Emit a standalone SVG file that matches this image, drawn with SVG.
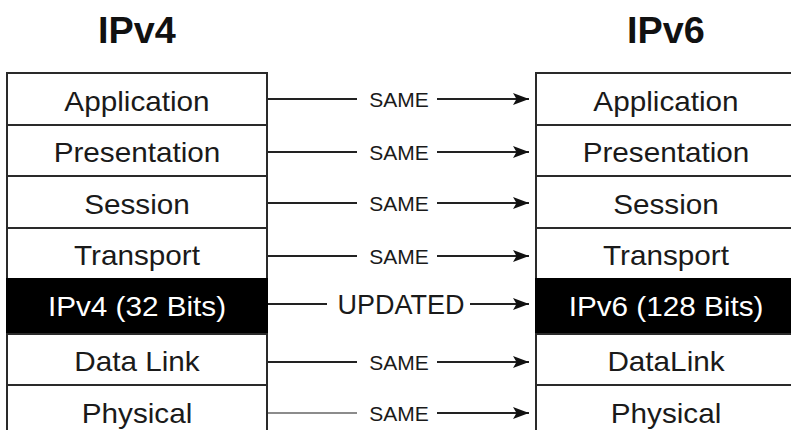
<svg xmlns="http://www.w3.org/2000/svg" width="791" height="430" viewBox="0 0 791 430">
  <style>
    .title { font-family: "Liberation Sans", Arial, sans-serif; font-weight: bold; font-size: 36px; fill: #111; text-anchor: middle; }
    .row { fill: #fff; stroke: #2a2a2a; stroke-width: 2; }
    .row.dark { fill: #000; stroke: #000; }
    .lbl { font-family: "Liberation Sans", Arial, sans-serif; font-size: 27px; fill: #1a1a1a; text-anchor: middle; }
    .dark-lbl { fill: #fff; }
    .conn { stroke: #222; stroke-width: 2; fill: none; }
    .conn.light { stroke: #666; stroke-width: 1.6; }
    .tag { font-family: "Liberation Sans", Arial, sans-serif; font-size: 21px; fill: #1a1a1a; text-anchor: middle; }
    .tag.big { font-size: 27px; }
  </style>
  <defs>
    <marker id="head" viewBox="0 0 16 12" refX="16" refY="6" markerWidth="16" markerHeight="12" markerUnits="userSpaceOnUse" orient="auto">
      <path d="M0,0 L16,6 L0,12 L3.5,6 Z" fill="#111"/>
    </marker>
  </defs>

  <rect width="791" height="430" fill="#fff"/>

  <!-- column headings -->
  <text class="title" x="137" y="43" transform="translate(137 0) scale(1.05 1) translate(-137 0)">IPv4</text>
  <text class="title" x="666" y="43" transform="translate(666 0) scale(1.05 1) translate(-666 0)">IPv6</text>

  <!-- IPv4 stack -->
  <g id="v4-application"><rect class="row" x="7" y="73" width="260" height="52"/><text class="lbl" transform="translate(137 111) scale(1.1 1)">Application</text></g>
  <g id="v4-presentation"><rect class="row" x="7" y="125" width="260" height="51"/><text class="lbl" transform="translate(137 162) scale(1.1 1)">Presentation</text></g>
  <g id="v4-session"><rect class="row" x="7" y="176" width="260" height="52"/><text class="lbl" transform="translate(137 214) scale(1.1 1)">Session</text></g>
  <g id="v4-transport"><rect class="row" x="7" y="228" width="260" height="51"/><text class="lbl" transform="translate(137 265) scale(1.1 1)">Transport</text></g>
  <g id="v4-network"><rect class="row dark" x="7" y="279" width="260" height="55"/><text class="lbl dark-lbl" transform="translate(137 316) scale(1.1 1)">IPv4 (32 Bits)</text></g>
  <g id="v4-datalink"><rect class="row" x="7" y="334" width="260" height="51"/><text class="lbl" transform="translate(137 371) scale(1.1 1)">Data Link</text></g>
  <g id="v4-physical"><rect class="row" x="7" y="385" width="260" height="60"/><text class="lbl" transform="translate(137 423) scale(1.1 1)">Physical</text></g>

  <!-- IPv6 stack -->
  <g id="v6-application"><rect class="row" x="536" y="73" width="260" height="52"/><text class="lbl" transform="translate(666 111) scale(1.1 1)">Application</text></g>
  <g id="v6-presentation"><rect class="row" x="536" y="125" width="260" height="51"/><text class="lbl" transform="translate(666 162) scale(1.1 1)">Presentation</text></g>
  <g id="v6-session"><rect class="row" x="536" y="176" width="260" height="52"/><text class="lbl" transform="translate(666 214) scale(1.1 1)">Session</text></g>
  <g id="v6-transport"><rect class="row" x="536" y="228" width="260" height="51"/><text class="lbl" transform="translate(666 265) scale(1.1 1)">Transport</text></g>
  <g id="v6-network"><rect class="row dark" x="536" y="279" width="260" height="55"/><text class="lbl dark-lbl" transform="translate(666 316) scale(1.1 1)">IPv6 (128 Bits)</text></g>
  <g id="v6-datalink"><rect class="row" x="536" y="334" width="260" height="51"/><text class="lbl" transform="translate(666 371) scale(1.1 1)">DataLink</text></g>
  <g id="v6-physical"><rect class="row" x="536" y="385" width="260" height="60"/><text class="lbl" transform="translate(666 423) scale(1.1 1)">Physical</text></g>

  <!-- layer-to-layer connectors -->
  <g id="connectors">
    <line class="conn" x1="268" y1="99" x2="357" y2="99"/><line class="conn" x1="437" y1="99" x2="529" y2="99" marker-end="url(#head)"/>
    <text class="tag" x="399" y="107">SAME</text>

    <line class="conn" x1="268" y1="152" x2="357" y2="152"/><line class="conn" x1="437" y1="152" x2="529" y2="152" marker-end="url(#head)"/>
    <text class="tag" x="399" y="160">SAME</text>

    <line class="conn" x1="268" y1="203" x2="357" y2="203"/><line class="conn" x1="437" y1="203" x2="529" y2="203" marker-end="url(#head)"/>
    <text class="tag" x="399" y="211">SAME</text>

    <line class="conn" x1="268" y1="256" x2="357" y2="256"/><line class="conn" x1="437" y1="256" x2="529" y2="256" marker-end="url(#head)"/>
    <text class="tag" x="399" y="264">SAME</text>

    <line class="conn" x1="268" y1="304" x2="327" y2="304"/><line class="conn" x1="470" y1="304" x2="529" y2="304" marker-end="url(#head)"/>
    <text class="tag big" x="401" y="314">UPDATED</text>

    <line class="conn" x1="268" y1="362" x2="357" y2="362"/><line class="conn" x1="437" y1="362" x2="529" y2="362" marker-end="url(#head)"/>
    <text class="tag" x="399" y="370">SAME</text>

    <line class="conn light" x1="268" y1="413" x2="357" y2="413"/><line class="conn" x1="437" y1="413" x2="529" y2="413" marker-end="url(#head)"/>
    <text class="tag" x="399" y="421">SAME</text>
  </g>
</svg>
